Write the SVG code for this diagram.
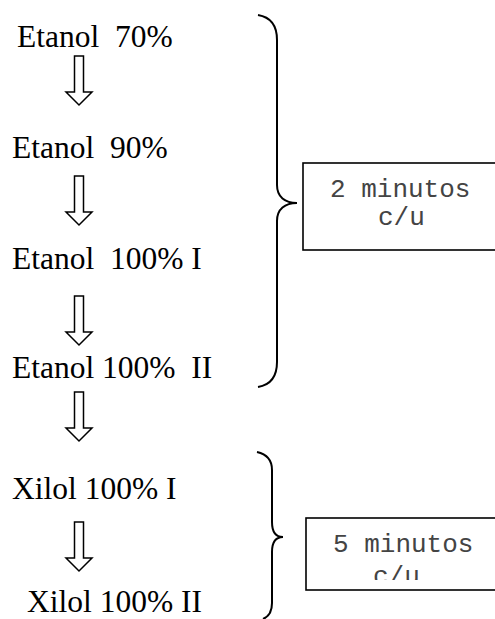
<svg xmlns="http://www.w3.org/2000/svg" width="495" height="619" viewBox="0 0 495 619">
<style>
.lbl{font-family:"Liberation Serif","Times New Roman",serif;font-size:31.5px;fill:#000;white-space:pre}
.mono{font-family:"Liberation Mono","Courier New",monospace;font-size:26px;fill:#444;white-space:pre}
.arrow{fill:#fff;stroke:#000;stroke-width:1.5;stroke-linejoin:miter}
.brace{fill:none;stroke:#000;stroke-width:2}
.box{fill:#fff;stroke:#000;stroke-width:1.6}
</style>
<defs>
<path id="arr" d="M-4.5,0 L4.5,0 L4.5,36 L13,36 L0,49 L-13,36 L-4.5,36 Z"/>
<clipPath id="clip2"><rect x="306" y="518" width="200" height="62"/></clipPath>
</defs>
<rect width="495" height="619" fill="#fff"/>
<g id="n1"><text class="lbl" x="17" y="47" xml:space="preserve">Etanol  70%</text></g>
<g id="n2"><text class="lbl" x="12" y="158" xml:space="preserve">Etanol  90%</text></g>
<g id="n3"><text class="lbl" x="12" y="269" xml:space="preserve">Etanol  100% I</text></g>
<g id="n4"><text class="lbl" x="12" y="378" xml:space="preserve">Etanol 100%  II</text></g>
<g id="n5"><text class="lbl" x="12" y="499" xml:space="preserve">Xilol 100% I</text></g>
<g id="n6"><text class="lbl" x="27" y="612" xml:space="preserve">Xilol 100% II</text></g>
<g id="connectors">
<use href="#arr" class="arrow" transform="translate(79,56)"/>
<use href="#arr" class="arrow" transform="translate(79,176)"/>
<use href="#arr" class="arrow" transform="translate(79,296)"/>
<use href="#arr" class="arrow" transform="translate(79,392)"/>
<use href="#arr" class="arrow" transform="translate(79,522)"/>
</g>
<g id="brace1"><path class="brace" d="M258,15 C270,17 277,25 277,40 L277,185 C277,197 285,203 297,203 C285,203 277,209 277,221 L277,362 C277,377 270,385 258,387"/></g>
<g id="box1">
<rect class="box" x="303" y="163" width="200" height="87"/>
<text class="mono" x="330" y="197" xml:space="preserve">2 minutos</text>
<text class="mono" x="378" y="225">c/u</text>
</g>
<g id="brace2"><path class="brace" d="M257,452 C266,454 272,460 272,470 L272,522 C272,532 276,537 283,537 C276,537 272,542 272,552 L272,603 C272,612 268,617 263,619"/></g>
<g id="box2">
<rect class="box" x="306" y="518" width="200" height="72"/>
<g clip-path="url(#clip2)">
<text class="mono" x="333" y="552" xml:space="preserve">5 minutos</text>
<text class="mono" x="373" y="584">c/u</text>
</g>
</g>
</svg>
